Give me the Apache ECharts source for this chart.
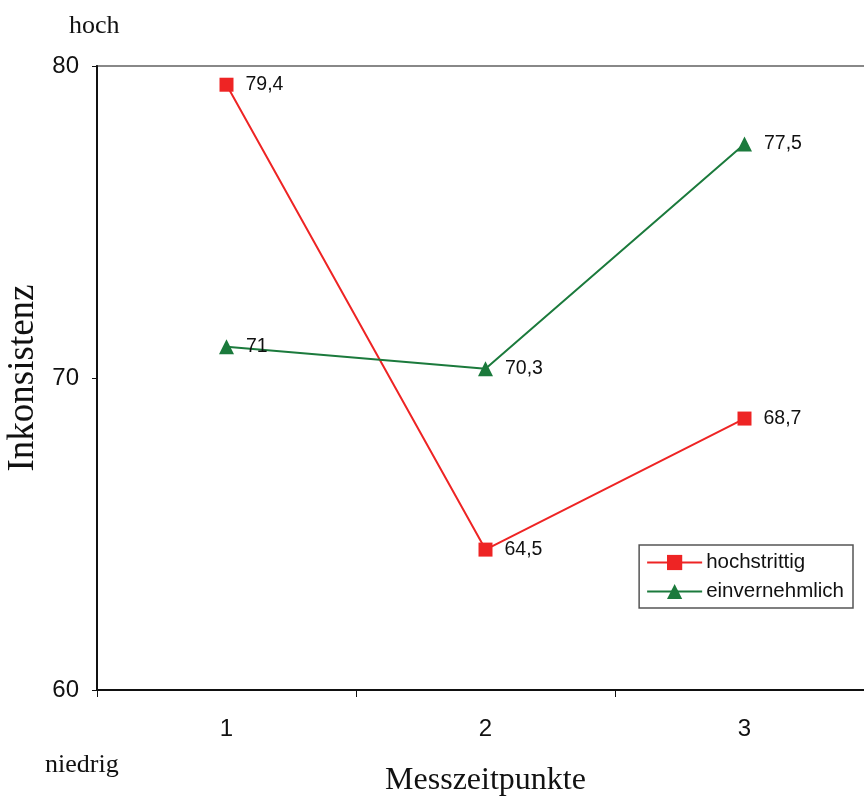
<!DOCTYPE html>
<html><head><meta charset="utf-8">
<script src="https://cdn.jsdelivr.net/npm/echarts@6/dist/echarts.min.js"></script>
<style>html,body{margin:0;padding:0;background:#fff}#c{width:864px;height:796px}</style>
</head><body><div id="c"></div>
<script>
const categories = ['1', '2', '3'];
const hochstrittig = [79.4, 64.5, 68.7];
const einvernehmlich = [71, 70.3, 77.5];
const yTicks = [60, 70, 80];

const chart = echarts.init(document.getElementById('c'), null, {renderer: 'canvas'});
const labelStyle = {show: true, position: 'right', distance: 12, fontFamily: 'Liberation Sans, Arial', fontSize: 19.5, color: '#111',
  formatter: p => String(p.value).replace('.', ',')};
chart.setOption({
  animation: false,
  grid: {left: 97, top: 66, width: 777, height: 624, outerBoundsMode: 'none', containLabel: false,
    show: true, borderColor: '#888', borderWidth: 2},
  xAxis: {type: 'category', data: categories, boundaryGap: true,
    axisLine: {lineStyle: {color: '#111', width: 2}},
    axisTick: {show: true, length: 7, lineStyle: {color: '#111', width: 1}},
    axisLabel: {margin: 27, fontFamily: 'Liberation Sans, Arial', fontSize: 24, color: '#111'},
    name: 'Messzeitpunkte', nameLocation: 'middle', nameGap: 75,
    nameTextStyle: {fontFamily: 'Liberation Serif, Times New Roman', fontSize: 32, color: '#111'}
  },
  yAxis: {type: 'value', min: yTicks[0], max: yTicks[yTicks.length - 1], interval: 10,
    splitLine: {show: false},
    axisLine: {show: true, lineStyle: {color: '#111', width: 2}},
    axisTick: {show: true, length: 5, lineStyle: {color: '#111'}},
    axisLabel: {margin: 18, fontFamily: 'Liberation Sans, Arial', fontSize: 24, color: '#111'},
    name: 'Inkonsistenz', nameLocation: 'middle', nameGap: 48, nameRotate: 90,
    nameTextStyle: {fontFamily: 'Liberation Serif, Times New Roman', fontSize: 37, color: '#111'}
  },
  legend: {show: true, right: 11, top: 545, orient: 'vertical', itemGap: 8,
    borderColor: '#555', borderWidth: 1.5, borderRadius: 0, padding: [7, 9, 6, 7],
    itemWidth: 55, itemHeight: 19,
    textStyle: {fontFamily: 'Liberation Sans, Arial', fontSize: 20.5, color: '#111', padding: [0, 0, 0, -1]},
    data: ['hochstrittig', 'einvernehmlich']
  },
  series: [
    {name: 'hochstrittig', type: 'line', data: hochstrittig, symbol: 'rect', symbolSize: 14,
      lineStyle: {color: '#ee2424', width: 2}, itemStyle: {color: '#ee2424'}, label: labelStyle},
    {name: 'einvernehmlich', type: 'line', data: einvernehmlich, symbol: 'triangle', symbolSize: 15,
      lineStyle: {color: '#1b7a3c', width: 2}, itemStyle: {color: '#1b7a3c'}, label: labelStyle}
  ],
  graphic: [
    {type: 'text', left: 69, top: 13, style: {text: 'hoch', font: '26px "Liberation Serif"', fill: '#111'}},
    {type: 'text', left: 45, top: 752, style: {text: 'niedrig', font: '26px "Liberation Serif"', fill: '#111'}}
  ]
});
</script></body></html>
